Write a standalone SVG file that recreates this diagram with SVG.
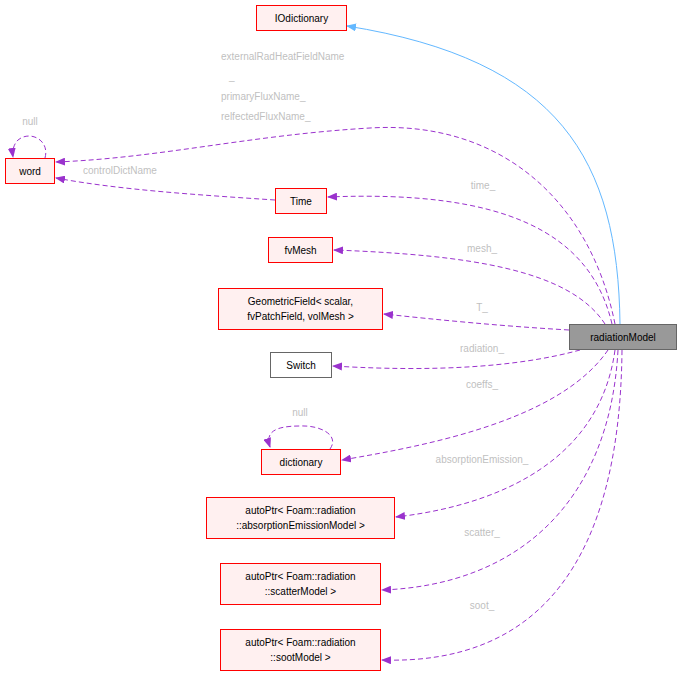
<svg xmlns="http://www.w3.org/2000/svg" width="681" height="676" viewBox="0 0 681 676">
<style>
text{font-family:"Liberation Sans",Arial,sans-serif;font-size:10px}
.n rect{fill:#fff0f0;stroke:#ff0000;stroke-width:1}
.n text{fill:#000;text-anchor:middle}
.e{fill:none;stroke:#9a32cd;stroke-dasharray:5,3}
.l{fill:#bfbfbf;text-anchor:middle}
.s{text-anchor:start}
</style>
<defs>
<marker id="a" markerWidth="10" markerHeight="8" refX="9" refY="4" orient="auto" markerUnits="userSpaceOnUse"><path d="M0,0L10,4L0,8z" fill="#9a32cd"/></marker>
<marker id="b" markerWidth="10" markerHeight="8" refX="9" refY="4" orient="auto" markerUnits="userSpaceOnUse"><path d="M0,0L10,4L0,8z" fill="#63b8ff"/></marker>
</defs>
<rect width="681" height="676" fill="#fff"/>
<g id="edges">
<path d="M620,324C618,160 560,60 347,26" fill="none" stroke="#63b8ff" marker-end="url(#b)"/>
<path class="e" d="M615,324C590,200 500,120 370,128C250,135 160,158 56,162" marker-end="url(#a)"/>
<path class="e" d="M275,200C200,195 120,190 56,178" marker-end="url(#a)"/>
<path class="e" d="M45,158C50,140 30,130 18,140C14,144 12,150 13,157" marker-end="url(#a)"/>
<path class="e" d="M612,324C590,230 500,190 328,197" marker-end="url(#a)"/>
<path class="e" d="M605,324C570,270 470,255 334,250" marker-end="url(#a)"/>
<path class="e" d="M569,330C500,326 440,320 384,314" marker-end="url(#a)"/>
<path class="e" d="M580,350C500,372 400,370 333,366" marker-end="url(#a)"/>
<path class="e" d="M608,350C560,420 430,445 342,460" marker-end="url(#a)"/>
<path class="e" d="M330,449C340,435 320,425 300,426C275,426 265,432 270,447" marker-end="url(#a)"/>
<path class="e" d="M615,350C600,460 500,505 396,517" marker-end="url(#a)"/>
<path class="e" d="M618,350C610,500 520,585 382,590" marker-end="url(#a)"/>
<path class="e" d="M622,350C620,560 540,665 382,660" marker-end="url(#a)"/>
<text class="l s" x="221" y="60">externalRadHeatFieldName</text>
<text class="l s" x="229" y="80">_</text>
<text class="l s" x="221" y="100">primaryFluxName_</text>
<text class="l s" x="221" y="120">relfectedFluxName_</text>
<text class="l s" x="83" y="174">controlDictName</text>
<text class="l" x="30" y="125">null</text>
<text class="l" x="483" y="189">time_</text>
<text class="l" x="482" y="252">mesh_</text>
<text class="l" x="482" y="311">T_</text>
<text class="l" x="482" y="352">radiation_</text>
<text class="l" x="482" y="388">coeffs_</text>
<text class="l" x="300" y="416">null</text>
<text class="l" x="482" y="463">absorptionEmission_</text>
<text class="l" x="482" y="536">scatter_</text>
<text class="l" x="482" y="609">soot_</text>
</g>
<g id="IOdictionary" class="n"><rect x="256.5" y="5.5" width="90" height="25"/><text x="301.5" y="22">IOdictionary</text></g>
<g id="word" class="n"><rect x="5.5" y="158.5" width="49" height="25"/><text x="30" y="175">word</text></g>
<g id="Time" class="n"><rect x="275.5" y="188.5" width="51" height="25"/><text x="301" y="205">Time</text></g>
<g id="fvMesh" class="n"><rect x="268.5" y="237.5" width="64" height="25"/><text x="300.5" y="254">fvMesh</text></g>
<g id="GeometricField" class="n"><rect x="218.5" y="288.5" width="164" height="41"/><text x="300.5" y="305">GeometricField&lt; scalar,</text><text x="300.5" y="320">fvPatchField, volMesh &gt;</text></g>
<g id="Switch" class="n"><rect x="270.5" y="352.5" width="61" height="25" style="fill:#fff;stroke:#666"/><text x="301" y="369">Switch</text></g>
<g id="dictionary" class="n"><rect x="261.5" y="449.5" width="79" height="25"/><text x="301" y="466">dictionary</text></g>
<g id="absorption" class="n"><rect x="206.5" y="497.5" width="188" height="41"/><text x="300.5" y="514">autoPtr&lt; Foam::radiation</text><text x="300.5" y="529">::absorptionEmissionModel &gt;</text></g>
<g id="scatter" class="n"><rect x="220.5" y="563.5" width="160" height="41"/><text x="300.5" y="580">autoPtr&lt; Foam::radiation</text><text x="300.5" y="595">::scatterModel &gt;</text></g>
<g id="soot" class="n"><rect x="220.5" y="629.5" width="160" height="41"/><text x="300.5" y="646">autoPtr&lt; Foam::radiation</text><text x="300.5" y="661">::sootModel &gt;</text></g>
<g id="radiationModel" class="n"><rect x="569.5" y="324.5" width="107" height="25" style="fill:#999;stroke:#666"/><text x="623" y="341">radiationModel</text></g>
</svg>
